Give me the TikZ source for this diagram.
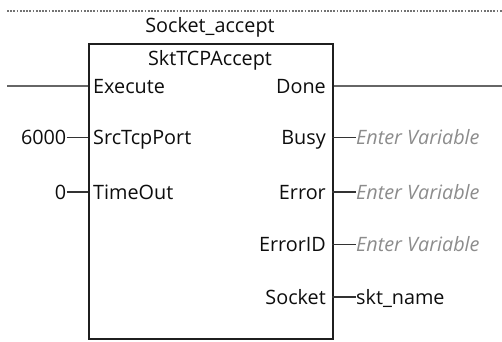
\documentclass[tikz,border=0pt]{standalone}
\usepackage{fontspec}
\setmainfont{Open Sans}
\begin{document}
\begin{tikzpicture}[x=1pt,y=-1pt,
  lbl/.style={inner sep=0pt,font=\fontsize{19.8}{23}\selectfont,text=black!95},
  hint/.style={inner sep=0pt,font=\fontsize{19.8}{23}\selectfont\itshape,text=black!45},
  rung/.style={draw=black!60,line width=2.8pt},
  stub/.style={draw=black!80,line width=1.8pt},
  fbox/.style={draw=black!88,line width=2pt,fill=white,inner sep=0pt,
               minimum width=244pt,minimum height=295pt,anchor=north west}]
\useasboundingbox (0,0) rectangle (502,341);
% dotted top line
\coordinate (dl) at (7,11);
\coordinate (dr) at (502,11);
\draw[draw=black!55,line width=2pt,dash pattern=on 1.8pt off 1.4pt] (dl) -- (dr);
% function block
\node[fbox] (fb) at (88,43) {};
\node[lbl,anchor=base] (inst) at (210,32) {Socket\_accept};
\node[lbl,anchor=base] (type) at (210,65) {SktTCPAccept};
% rung
\coordinate (railL) at (7,86);
\coordinate (railR) at (502,86);
\draw[rung] (railL) -- (railL -| fb.west);
\draw[rung] (railR -| fb.east) -- (railR);
% pins
\node[lbl,anchor=base west] (exe) at (93,93) {Execute};
\node[lbl,anchor=base east] (done) at (326,93) {Done};
\node[lbl,anchor=base west] (src) at (93,144) {SrcTcpPort};
\node[lbl,anchor=base west] (tmo) at (93,199) {TimeOut};
\node[lbl,anchor=base east] (busy) at (326,144) {Busy};
\node[lbl,anchor=base east] (err) at (326,199) {Error};
\node[lbl,anchor=base east] (eid) at (326,251) {ErrorID};
\node[lbl,anchor=base east] (sock) at (326,304) {Socket};
% pin points
\coordinate (pSrc) at (88,137.5);
\coordinate (pTmo) at (88,192);
\coordinate (pBusy) at (332,137.5);
\coordinate (pErr) at (332,192);
\coordinate (pEid) at (332,244.5);
\coordinate (pSock) at (332,297);
% inputs
\node[lbl,anchor=base east] (v6000) at (66.5,144) {6000};
\node[lbl,anchor=base east] (v0) at (66.5,199) {0};
\draw[stub] (pSrc -| v6000.east) -- (pSrc);
\draw[stub] (pTmo -| v0.east) -- (pTmo);
% outputs
\node[hint,anchor=base west] (o1) at (356,144) {Enter Variable};
\node[hint,anchor=base west] (o2) at (356,199) {Enter Variable};
\node[hint,anchor=base west] (o3) at (356,251) {Enter Variable};
\node[lbl,anchor=base west] (o4) at (356,304) {skt\_name};
\draw[stub] (pBusy) -- (pBusy -| o1.west);
\draw[stub] (pErr) -- (pErr -| o2.west);
\draw[stub] (pEid) -- (pEid -| o3.west);
\draw[stub] (pSock) -- (pSock -| o4.west);
\end{tikzpicture}
\end{document}
